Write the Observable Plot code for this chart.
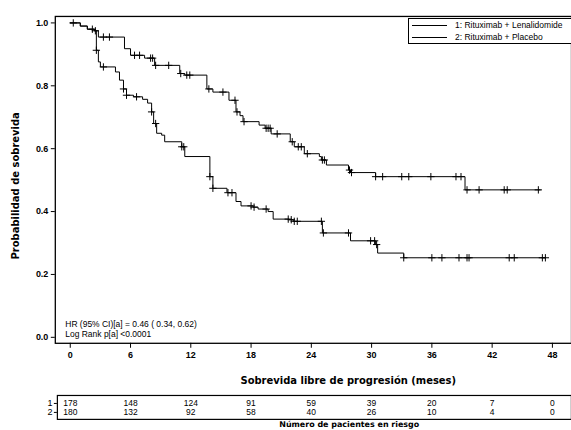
<!DOCTYPE html>
<html><head><meta charset="utf-8">
<script src="https://cdn.jsdelivr.net/npm/d3@7"></script>
<script src="https://cdn.jsdelivr.net/npm/@observablehq/plot@0.6"></script>
<style>
body{margin:0;background:#fff;}
#wrap{position:relative;width:571px;height:430px;overflow:hidden;background:#fff;}
#main{position:absolute;left:0;top:0;}
#risk{position:absolute;left:0;top:389px;}
#wrap svg{display:block;}
#legend{position:absolute;left:408px;top:18px;width:180px;height:24px;border:1px solid #000;background:#fff;
  font-family:"Liberation Sans Narrow","Liberation Sans",sans-serif;font-size:8.5px;color:#000;}
.lrow{height:12px;display:flex;align-items:center;}
.lline{display:inline-block;width:35px;border-top:1px solid #000;margin-left:3px;}
.ltext{margin-left:8px;white-space:nowrap;}
</style></head><body>
<div id="wrap"><div id="main"></div><div id="risk"></div><div id="legend"></div></div>
<script>
const armLabels = ["1: Rituximab + Lenalidomide", "2: Rituximab + Placebo"];

// Arm 1: Rituximab + Lenalidomide (step times and survival after each step)
const arm1Times = [0, 1.0, 1.7, 2.4, 2.8, 5.4, 6.0, 7.4, 8.4, 10.9, 11.4, 13.6, 14.2, 15.8, 16.5, 16.9, 17.2, 18.8, 19.4, 20.0, 21.9, 22.3, 23.3, 24.8, 25.0, 25.5, 27.7, 27.9, 30.4, 39.3];
const arm1Surv  = [1.0, 0.99, 0.98, 0.975, 0.955, 0.918, 0.897, 0.888, 0.865, 0.839, 0.834, 0.79, 0.78, 0.754, 0.717, 0.705, 0.686, 0.675, 0.665, 0.647, 0.622, 0.606, 0.584, 0.575, 0.564, 0.548, 0.532, 0.524, 0.511, 0.469];
const arm1End = 46.8;
const arm1Censor = [0.3, 2.2, 2.5, 3.3, 3.9, 6.4, 6.9, 8.0, 8.2, 8.5, 9.8, 11.0, 11.6, 11.9, 13.8, 15.2, 16.4, 16.6, 17.3, 19.5, 19.7, 19.9, 20.6, 22.1, 22.7, 23.0, 23.6, 25.1, 25.3, 27.8, 28.0, 30.4, 31.1, 33.0, 33.7, 35.9, 38.4, 38.9, 39.5, 40.7, 43.2, 43.5, 46.6];

// Arm 2: Rituximab + Placebo
const arm2Times = [0, 1.0, 1.7, 2.4, 2.6, 2.8, 3.0, 4.5, 4.9, 5.3, 5.6, 6.3, 7.2, 7.7, 8.1, 8.3, 8.6, 9.1, 9.4, 11.1, 11.4, 13.9, 14.2, 15.6, 16.5, 17.0, 18.2, 18.7, 19.7, 20.2, 21.8, 22.2, 25.1, 27.9, 30.4, 30.6, 33.2];
const arm2Surv  = [1.0, 0.99, 0.98, 0.975, 0.913, 0.876, 0.86, 0.844, 0.818, 0.79, 0.77, 0.765, 0.757, 0.745, 0.717, 0.68, 0.649, 0.643, 0.622, 0.606, 0.575, 0.511, 0.474, 0.46, 0.432, 0.418, 0.414, 0.408, 0.40, 0.376, 0.374, 0.369, 0.332, 0.307, 0.295, 0.268, 0.253];
const arm2End = 47.3;
const arm2Censor = [2.6, 3.3, 5.3, 5.6, 6.6, 8.1, 8.5, 11.1, 11.3, 13.9, 14.2, 15.7, 16.1, 18.0, 18.3, 19.5, 21.7, 22.0, 22.3, 22.6, 25.0, 25.2, 27.7, 29.9, 30.3, 30.5, 33.2, 36.0, 37.0, 38.7, 39.5, 39.7, 43.7, 44.2, 47.0, 47.3];

const xTicks = [0, 6, 12, 18, 24, 30, 36, 42, 48];
const yTicks = [0, 0.2, 0.4, 0.6, 0.8, 1.0];
const risk1 = [178, 148, 124, 91, 59, 39, 20, 7, 0];
const risk2 = [180, 132, 92, 58, 40, 26, 10, 4, 0];
const riskArms = ["1", "2"];
const hrText = ["HR (95% CI)[a] = 0.46 ( 0.34, 0.62)", "Log Rank p[a] <0.0001"];
const xTitle = "Sobrevida libre de progresión (meses)";
const yTitle = "Probabilidad de sobrevida";
const riskTitle = "Número de pacientes en riesgo";

function stepPoints(times, surv, end) {
  const pts = times.map((t, i) => ({t, s: surv[i]}));
  pts.push({t: end, s: surv[surv.length - 1]});
  return pts;
}
function survAt(times, surv, t) {
  let v = surv[0];
  for (let i = 0; i < times.length; i++) if (times[i] <= t) v = surv[i];
  return v;
}
const arm1Pts = stepPoints(arm1Times, arm1Surv, arm1End);
const arm2Pts = stepPoints(arm2Times, arm2Surv, arm2End);
const censorPts = [
  ...arm1Censor.map(t => ({t, s: survAt(arm1Times, arm1Surv, t)})),
  ...arm2Censor.map(t => ({t, s: survAt(arm2Times, arm2Surv, t)}))
];

const narrow = "Liberation Sans Narrow, Liberation Sans, sans-serif";
const boldFont = "DejaVu Sans, sans-serif";

const main = Plot.plot({
  width: 573, height: 389,
  marginLeft: 55, marginRight: 0, marginTop: 16, marginBottom: 45,
  style: {fontFamily: "Liberation Sans, sans-serif", background: "white", color: "black"},
  x: {domain: [-1.488, 49.9]},
  y: {domain: [-0.019, 1.0206]},
  marks: [
    Plot.frame({stroke: "black", strokeWidth: 1.3}),
    Plot.axisY({ticks: yTicks, tickFormat: d3.format(".1f"), tickSize: 4, tickPadding: 3, label: null, fontWeight: "bold", fontSize: 9}),
    Plot.axisX({ticks: xTicks, tickSize: 5, tickPadding: 3, label: null, fontWeight: "bold", fontSize: 9}),
    Plot.line(arm1Pts, {x: "t", y: "s", curve: "step-after", stroke: "black", strokeWidth: 1}),
    Plot.line(arm2Pts, {x: "t", y: "s", curve: "step-after", stroke: "black", strokeWidth: 1}),
    Plot.dot(censorPts, {x: "t", y: "s", symbol: "plus", r: 2.5, stroke: "black", strokeWidth: 1}),
    Plot.text([hrText.join("\n")], {frameAnchor: "bottom-left", textAnchor: "start", lineAnchor: "bottom", dx: 10, dy: -6, fontSize: 8.5, lineHeight: 1.25, fontFamily: narrow}),
    Plot.text([yTitle], {frameAnchor: "left", textAnchor: "middle", lineAnchor: "middle", rotate: -90, dx: -40, dy: 6, fontWeight: "bold", fontSize: 10, fontFamily: boldFont}),
    Plot.text([xTitle], {frameAnchor: "bottom", textAnchor: "middle", lineAnchor: "middle", dx: 35, dy: 38, fontWeight: "bold", fontSize: 10, fontFamily: boldFont})
  ]
});
document.getElementById("main").appendChild(main);

const riskData = xTicks.flatMap((t, i) => [
  {t, arm: riskArms[0], n: risk1[i]},
  {t, arm: riskArms[1], n: risk2[i]}
]);
const risk = Plot.plot({
  width: 573, height: 41,
  marginLeft: 57, marginRight: 0, marginTop: 6, marginBottom: 11,
  style: {fontFamily: narrow, background: "white", color: "black"},
  x: {domain: [-1.29, 49.9], axis: null},
  y: {type: "point", domain: riskArms, padding: 0.75, axis: null},
  marks: [
    Plot.frame({stroke: "black", strokeWidth: 1.2}),
    Plot.axisY({tickSize: 3, tickPadding: 2, fontSize: 9, label: null}),
    Plot.text(riskData, {x: "t", y: "arm", text: "n", fontSize: 8.5}),
    Plot.text([riskTitle], {frameAnchor: "bottom", textAnchor: "middle", lineAnchor: "middle", dx: 35, dy: 5, fontWeight: "bold", fontSize: 8, fontFamily: boldFont})
  ]
});
document.getElementById("risk").appendChild(risk);

const legend = document.getElementById("legend");
armLabels.forEach(lbl => {
  const row = document.createElement("div");
  row.className = "lrow";
  row.innerHTML = '<span class="lline"></span><span class="ltext"></span>';
  row.querySelector(".ltext").textContent = lbl;
  legend.appendChild(row);
});
</script>
</body></html>
